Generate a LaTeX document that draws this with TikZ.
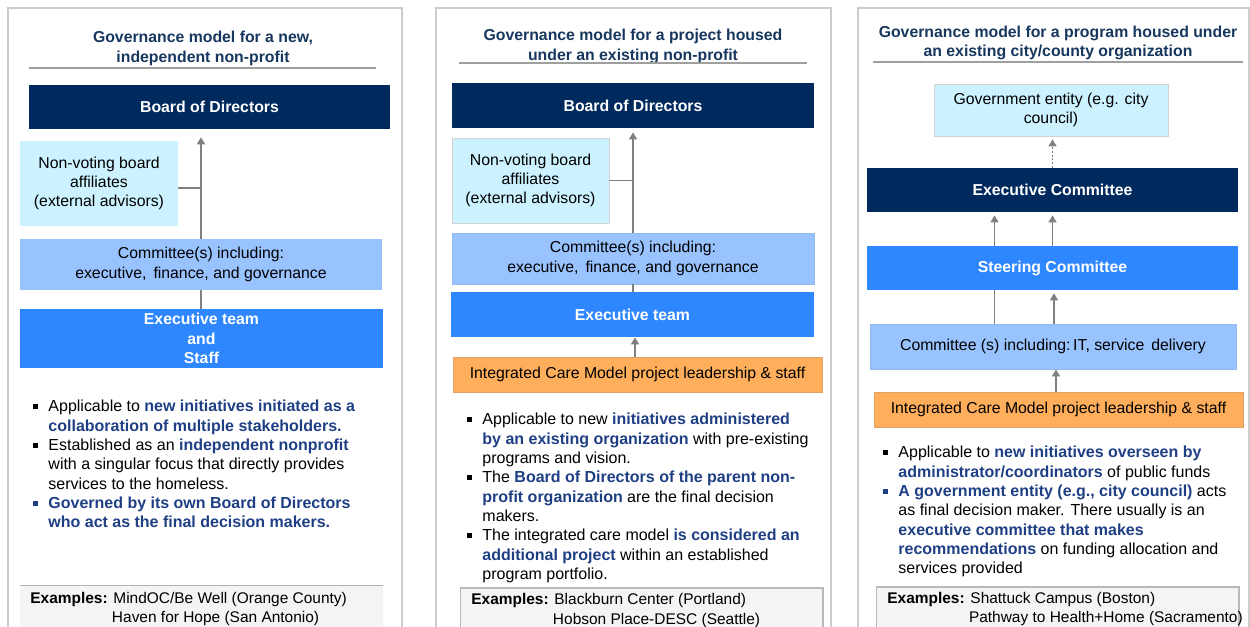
\documentclass[tikz,border=0pt]{standalone}
\usepackage{fontspec}
\setmainfont{Liberation Sans}
\usetikzlibrary{arrows.meta,positioning}

\definecolor{navy}{HTML}{002A5E}
\definecolor{bblue}{HTML}{2F87FF}
\definecolor{lblue}{HTML}{99C3FF}
\definecolor{cyanl}{HTML}{CCF2FF}
\definecolor{orng}{HTML}{FFAF5C}
\definecolor{tnavy}{HTML}{17375E}
\definecolor{hlblue}{HTML}{1F3F84}

\newcommand{\bmark}[1][black]{\makebox[8.6pt][l]{\textcolor{#1}{\rule[1.7pt]{2.6pt}{2.6pt}}}}
\newcommand{\bind}{\hspace*{8.6pt}}
\newcommand{\hlt}[1]{\textcolor{hlblue}{\bfseries #1}}

\tikzset{
  box/.style={rectangle, inner sep=0pt, align=center, font=\fontsize{9}{11}\selectfont},
  navybox/.style={box, fill=navy, text=white, font=\fontsize{9}{11}\selectfont\bfseries},
  bluebox/.style={box, fill=bblue, text=white, font=\fontsize{9}{11}\selectfont\bfseries},
  combox/.style={box, fill=lblue, draw=lblue!85!gray, line width=0.4pt},
  advbox/.style={box, fill=cyanl, draw=gray!35, line width=0.4pt},
  orgbox/.style={box, fill=orng, draw=orng!75!gray, line width=0.5pt},
  exbox/.style={box, fill=gray!9, draw=gray!55, line width=0.6pt},
  ttl/.style={align=center, inner sep=0pt, text=tnavy, font=\fontsize{9}{11}\selectfont\bfseries},
  bul/.style={align=left, inner sep=0pt, anchor=north west, font=\fontsize{9.1}{11}\selectfont},
  extxt/.style={align=left, inner sep=0pt, anchor=west, font=\fontsize{8.8}{11}\selectfont},
  frame/.style={draw=gray!40, line width=0.9pt},
  rule/.style={draw=gray!75, line width=0.6pt},
  ln/.style={draw=gray, line width=1.1pt},
  arr/.style={ln, -{Triangle[length=4pt,width=4.5pt]}}
}

\begin{document}
\begin{tikzpicture}[x=0.02cm, y=-0.02cm]
\useasboundingbox (0,0) rectangle (1250,626);

% panel frames
\draw[frame] (8,8) rectangle (402,640);
\draw[frame] (436,8) rectangle (831,640);
\draw[frame] (858,8) rectangle (1249,640);

% new independent non-profit
\node[ttl] (t1) at (203,48.5) {Governance model for a new,\\independent non-profit};
\draw[rule] (29,68) -- (376,68);
\node[navybox, minimum width=7.22cm, minimum height=0.88cm] (bod1) at (209.5,107) {Board of Directors};
\node[advbox, draw=none, minimum width=3.16cm, minimum height=1.70cm] (nv1) at (99,183.5) {Non-voting board\\affiliates\\(external advisors)};
\node[combox, draw=none, minimum width=7.24cm, minimum height=1.02cm] (com1) at (201,264.5) {Committee(s) including:\\executive,\, finance, and governance};
\node[bluebox, minimum width=7.26cm, minimum height=1.18cm] (exe1) at (201.5,338.5) {Executive team\\and\\Staff};
\draw[arr, shorten >=4.5pt] (com1.north) -- (com1.north |- bod1.south);
\draw[ln] ([yshift=-0.09cm]nv1.east) -- ([yshift=-0.09cm]nv1.east -| com1.north);
\draw[ln] (exe1.north -| com1.south) -- (com1.south);
\node[bul] (b1) at (33,400) {\bmark Applicable to \hlt{new initiatives initiated as a}\\
  \bind\hlt{collaboration of multiple stakeholders.}\\
  \bmark Established as an \hlt{independent nonprofit}\\
  \bind with a singular focus that directly provides\\
  \bind services to the homeless.\\
  \bmark[hlblue]\hlt{Governed by its own Board of Directors}\\
  \bind\hlt{who act as the final decision makers.}};
\node[exbox, draw=none, minimum width=7.26cm, minimum height=0.92cm] (ex1) at (201.5,609) {};
\draw[draw=gray!60, line width=0.8pt] (ex1.north west) -- (ex1.north east);
\node[extxt] (et1) at (30,609) {\textbf{Examples:} MindOC/Be Well (Orange County)\\
  \phantom{\textbf{Examples:}} Haven for Hope (San Antonio)};

% project under existing non-profit
\node[ttl] (t2) at (633,46.5) {Governance model for a project housed\\under an existing non-profit};
\draw[rule] (459,63) -- (807,63);
\node[navybox, minimum width=7.24cm, minimum height=0.90cm] (bod2) at (633,105.5) {Board of Directors};
\node[advbox, minimum width=3.14cm, minimum height=1.70cm] (nv2) at (530.5,180.5) {Non-voting board\\affiliates\\(external advisors)};
\node[combox, minimum width=7.24cm, minimum height=1.02cm] (com2) at (633,258.5) {Committee(s) including:\\executive,\, finance, and governance};
\node[bluebox, minimum width=7.26cm, minimum height=0.90cm] (exe2) at (632.5,314.5) {Executive team};
\node[orgbox, minimum width=7.38cm, minimum height=0.70cm] (org2) at (637.5,374.5) {Integrated Care Model project leadership \& staff};
\draw[arr, shorten >=2.3pt] (com2.north) -- (com2.north |- bod2.south);
\draw[ln] (nv2.east) -- (nv2.east -| com2.north);
\draw[ln] (exe2.north -| com2.south) -- (com2.south);
\draw[arr] ([xshift=0.05cm]exe2.south |- org2.north) -- ([xshift=0.05cm]exe2.south);
\node[bul] (b2) at (467,413) {\bmark Applicable to new \hlt{initiatives administered}\\
  \bind\hlt{by an existing organization} with pre-existing\\
  \bind programs and vision.\\
  \bmark The \hlt{Board of Directors of the parent non-}\\
  \bind\hlt{profit organization} are the final decision\\
  \bind makers.\\
  \bmark The integrated care model \hlt{is considered an}\\
  \bind\hlt{additional project} within an established\\
  \bind program portfolio.};
\node[exbox, minimum width=7.26cm, minimum height=0.92cm] (ex2) at (641.5,611) {};
\node[extxt] (et2) at (471,610.5) {\textbf{Examples:} Blackburn Center (Portland)\\
  \phantom{\textbf{Examples:}} Hobson Place-DESC (Seattle)};

% program under city/county organization
\node[ttl] (t3) at (1058,43) {Governance model for a program housed under\\an existing city/county organization};
\draw[rule] (873,62) -- (1243,62);
\node[advbox, minimum width=4.68cm, minimum height=1.04cm] (gov3) at (1051,110) {Government entity (e.g. city\\council)};
\node[navybox, minimum width=7.42cm, minimum height=0.88cm] (exc3) at (1052.5,190) {Executive Committee};
\node[bluebox, minimum width=7.42cm, minimum height=0.88cm] (str3) at (1052.5,268) {Steering Committee};
\node[combox, minimum width=7.32cm, minimum height=0.90cm] (com3) at (1053,346.5) {Committee (s) including:\,IT, service\, delivery};
\node[orgbox, minimum width=7.38cm, minimum height=0.70cm] (org3) at (1058.5,409.5) {Integrated Care Model project leadership \& staff};
\draw[arr, densely dotted, shorten >=1.7pt] (exc3.north) -- (exc3.north |- gov3.south);
\draw[arr, shorten >=1.7pt] ([xshift=-1.16cm]str3.north) -- ([xshift=-1.16cm]exc3.south);
\draw[arr, shorten >=1.7pt] (str3.north) -- (exc3.south);
\draw[ln] ([xshift=-1.16cm]str3.south |- com3.north) -- ([xshift=-1.16cm]str3.south);
\draw[arr, shorten >=1.7pt] ([xshift=0.03cm]str3.south |- com3.north) -- ([xshift=0.03cm]str3.south);
\draw[arr] ([xshift=0.07cm]str3.south |- org3.north) -- ([xshift=0.07cm]str3.south |- com3.south);
\node[bul] (b3) at (883,446) {\bmark Applicable to \hlt{new initiatives overseen by}\\
  \bind\hlt{administrator/coordinators} of public funds\\
  \bmark[hlblue]\hlt{A government entity (e.g., city council)} acts\\
  \bind as final decision maker. There usually is an\\
  \bind\hlt{executive committee that makes}\\
  \bind\hlt{recommendations} on funding allocation and\\
  \bind services provided};
\node[exbox, minimum width=7.26cm, minimum height=0.92cm] (ex3) at (1057.5,610) {};
\node[extxt] (et3) at (887,609) {\textbf{Examples:} Shattuck Campus (Boston)\\
  \phantom{\textbf{Examples:}} Pathway to Health+Home (Sacramento)};
\end{tikzpicture}
\end{document}
